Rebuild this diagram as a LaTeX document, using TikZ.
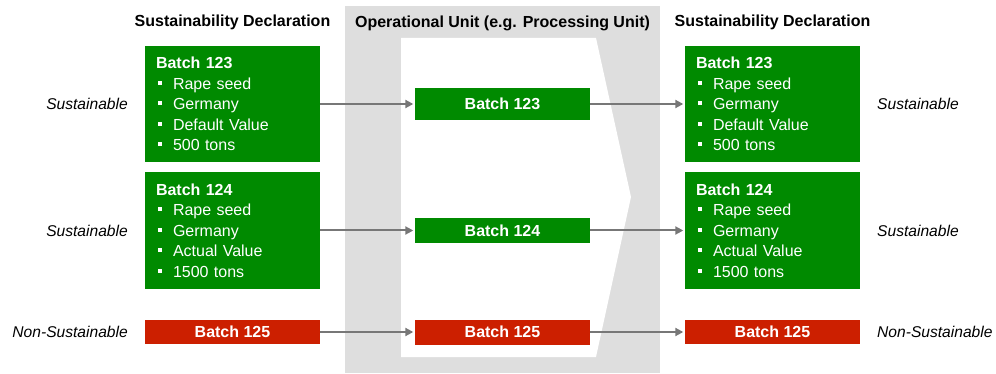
\documentclass[tikz,border=0pt]{standalone}
\usepackage{fontspec}
\setmainfont{Liberation Sans}
\usetikzlibrary{arrows.meta}
\definecolor{declgreen}{RGB}{0,138,0}
\definecolor{declred}{RGB}{204,31,0}
\definecolor{unitgray}{RGB}{222,222,222}
\definecolor{flowgray}{RGB}{119,119,119}
\newcommand{\declsize}{\fontsize{16pt}{20.5pt}\selectfont}
\newcommand{\blt}{\makebox[17pt][l]{\hspace{1.5pt}\raisebox{4.5pt}{\rule{4pt}{4pt}}}}
\tikzset{
  decl/.style={fill=declgreen,text=white,minimum width=175pt,minimum height=116pt,
    inner xsep=11pt,inner ysep=0pt,text width=153pt,align=left},
  batch/.style={fill=#1,text=white,minimum width=175pt,inner sep=0pt,font=\declsize\bfseries},
  head/.style={font=\declsize\bfseries},
  state/.style={font=\fontsize{15.6pt}{19pt}\selectfont\itshape,inner xsep=0pt},
  flow/.style={draw=flowgray,line width=2pt,-{Triangle[length=8pt,width=8pt]},shorten >=1.5pt}
}
\begin{document}
\begin{tikzpicture}[x=1pt,y=-1pt,font=\declsize]
\useasboundingbox (0,0) rectangle (996,374);
\fill[unitgray] (345,6) rectangle (660,373);
\fill[white] (401,38) -- (596,38) -- (631,197) -- (596,357) -- (401,357) -- cycle;

\node[head] (hleft) at (232.5,22) {Sustainability Declaration};
\node[head] (hunit) at (502.5,23) {Operational Unit (e.g. Processing Unit)};
\node[head] (hright) at (772.5,22) {Sustainability Declaration};

\foreach \s/\x in {l/232.5,r/772.5}{
  \node[decl] (\s123) at (\x,104) {\textbf{Batch 123}\\\blt Rape seed\\\blt Germany\\\blt Default Value\\\blt 500 tons};
  \node[decl] (\s124) at (\x,230.5) {\textbf{Batch 124}\\\blt Rape seed\\\blt Germany\\\blt Actual Value\\\blt 1500 tons};
  \node[batch=declred,minimum height=24pt] (\s125) at (\x,332) {Batch 125};
}
\node[batch=declgreen,minimum height=32pt] (m123) at (502.5,104) {Batch 123};
\node[batch=declgreen,minimum height=25pt] (m124) at (502.5,230.5) {Batch 124};
\node[batch=declred,minimum height=25pt] (m125) at (502.5,332) {Batch 125};

\foreach \b in {123,124,125}{
  \draw[flow] (l\b) -- (m\b);
  \draw[flow] (m\b) -- (r\b);
}

\node[state,anchor=east] (s123l) at (128,104) {Sustainable};
\node[state,anchor=east] (s124l) at (128,230.5) {Sustainable};
\node[state,anchor=east] (s125l) at (128,332) {Non-Sustainable};
\node[state,anchor=west] (s123r) at (877,104) {Sustainable};
\node[state,anchor=west] (s124r) at (877,230.5) {Sustainable};
\node[state,anchor=west] (s125r) at (877,332) {Non-Sustainable};
\end{tikzpicture}
\end{document}
